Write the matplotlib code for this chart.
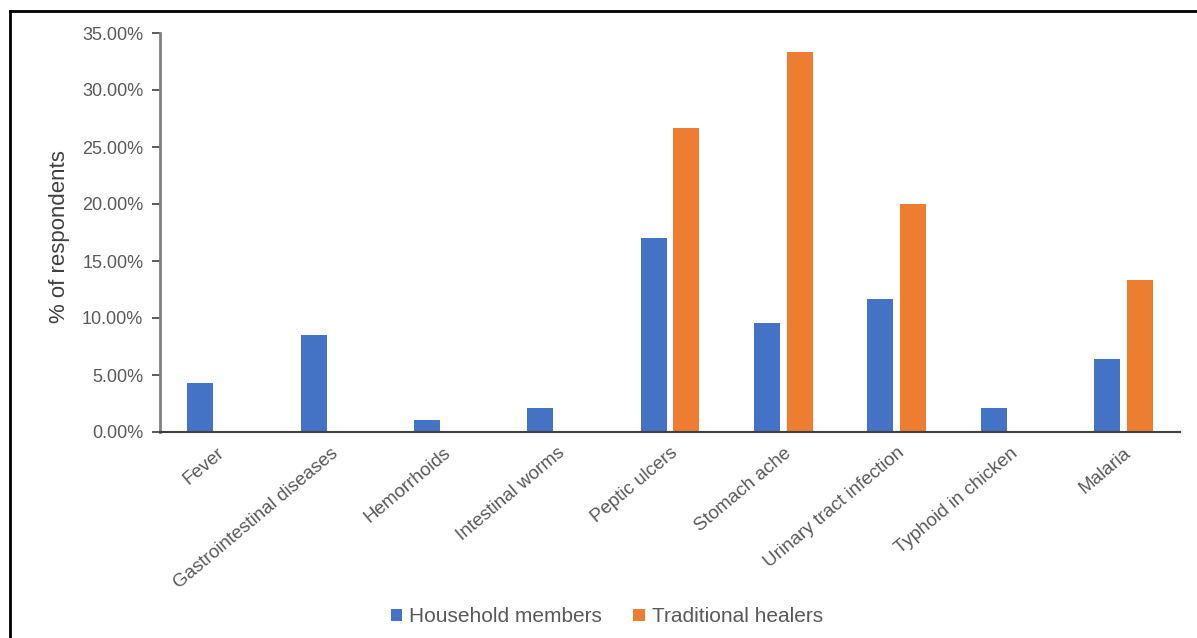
import numpy as np
import matplotlib
matplotlib.use("Agg")
import matplotlib.pyplot as plt
from matplotlib.lines import Line2D
from matplotlib.ticker import FuncFormatter, MultipleLocator

plt.rcParams['font.family'] = ['Liberation Sans', 'DejaVu Sans']

categories = ["Fever", "Gastrointestinal diseases", "Hemorrhoids", "Intestinal worms",
              "Peptic ulcers", "Stomach ache", "Urinary tract infection",
              "Typhoid in chicken", "Malaria"]
household = [4.26, 8.51, 1.06, 2.13, 17.02, 9.57, 11.70, 2.13, 6.38]
healers = [0, 0, 0, 0, 26.67, 33.33, 20.00, 0, 13.33]

blue = "#4472C4"
orange = "#ED7D31"
grey = "#595959"

fig = plt.figure(figsize=(11.97, 6.38), dpi=100)
ax = fig.add_axes([160 / 1197, 1 - 432 / 638, 1020 / 1197, 399 / 638])

x = np.arange(len(categories))
w = 0.23
ax.bar(x - 0.145, household, w, color=blue, label="Household members")
ax.bar(x + 0.145, healers, w, color=orange, label="Traditional healers")

ax.set_xlim(-0.5, len(categories) - 0.5)
ax.set_ylim(0, 35)
ax.yaxis.set_major_locator(MultipleLocator(5))
ax.yaxis.set_major_formatter(FuncFormatter(lambda v, p: f"{v:.2f}%"))

ax.set_xticks(x)
ax.set_xticklabels(categories, rotation=40, ha="right", rotation_mode="anchor",
                   fontsize=13.5, color=grey)
ax.tick_params(axis="x", length=0, pad=9)
ax.tick_params(axis="y", labelsize=13, labelcolor=grey, length=6, width=1.2,
               color="#404040", pad=6)

for s in ["top", "right"]:
    ax.spines[s].set_visible(False)
ax.spines["left"].set_color("#808080")
ax.spines["left"].set_linewidth(2)
ax.spines["bottom"].set_color("#404040")
ax.spines["bottom"].set_linewidth(1.5)

ax.set_ylabel("% of respondents", fontsize=16, color="#404040")
ax.yaxis.set_label_coords(-0.088, 0.49)

fig.legend(loc="center", bbox_to_anchor=(0.507, 0.033), ncol=2, frameon=False,
           fontsize=15, handlelength=0.55, handleheight=0.55, handletextpad=0.35,
           columnspacing=1.5, labelcolor=grey)

# outer frame (only left and top edges are visible in the picture)
fx = 10 / 1197
fy = 1 - 10.5 / 638
fig.add_artist(Line2D([fx, fx], [0, fy], color="black", lw=2, transform=fig.transFigure))
fig.add_artist(Line2D([fx, 1], [fy, fy], color="black", lw=2, transform=fig.transFigure))

fig.savefig("out.png", dpi=100)
